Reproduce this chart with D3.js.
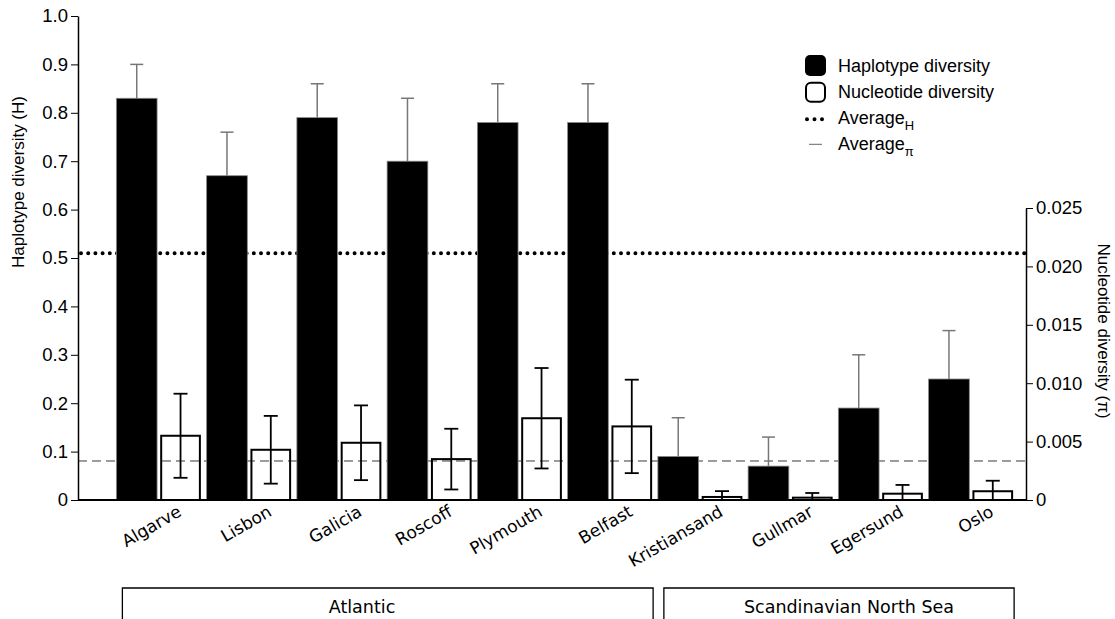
<!DOCTYPE html>
<html>
<head>
<meta charset="utf-8">
<script src="https://cdn.jsdelivr.net/npm/d3@7"></script>
<style>
  html, body { margin: 0; padding: 0; background: #fff; }
  svg { display: block; }
</style>
</head>
<body>
<svg id="chart" width="1115" height="619"></svg>
<script>
// ---------------- data ----------------
const categories = ["Algarve", "Lisbon", "Galicia", "Roscoff", "Plymouth", "Belfast",
                    "Kristiansand", "Gullmar", "Egersund", "Oslo"];
const hapValues = [0.83, 0.67, 0.79, 0.70, 0.78, 0.78, 0.09, 0.07, 0.19, 0.25];
const hapErr    = [0.07, 0.09, 0.07, 0.13, 0.08, 0.08, 0.08, 0.06, 0.11, 0.10];
const nucValues = [0.0055, 0.0043, 0.0049, 0.0035, 0.0070, 0.0063, 0.00026, 0.0002, 0.00054, 0.00075];
const nucErr    = [0.0036, 0.0029, 0.0032, 0.0026, 0.0043, 0.0040, 0.0005, 0.0004, 0.00075, 0.0009];
const averageH  = 0.51;
const averagePi = 0.00334;
const leftTicks  = [0, 0.1, 0.2, 0.3, 0.4, 0.5, 0.6, 0.7, 0.8, 0.9, 1.0];
const leftTickLabels = ["0", "0.1", "0.2", "0.3", "0.4", "0.5", "0.6", "0.7", "0.8", "0.9", "1.0"];
const rightTicks = [0, 0.005, 0.010, 0.015, 0.020, 0.025];
const rightTickLabels = ["0", "0.005", "0.010", "0.015", "0.020", "0.025"];
const groupNames = ["Atlantic", "Scandinavian North Sea"];
const groupFirst = ["Algarve", "Kristiansand"];
const groupLast  = ["Belfast", "Oslo"];
const seriesKeys = ["H", "pi"];
const legendLabels = ["Haplotype diversity", "Nucleotide diversity", "Average", "Average"];
const legendSubs = ["", "", "H", "π"];

// ---------------- setup ----------------
const svg = d3.select("#chart");
const helv = "'Liberation Sans', Arial, Helvetica, sans-serif";
const lucida = "'DejaVu Sans', 'Noto Sans', sans-serif";

const x = d3.scaleBand().domain(categories).range([113.5, 1016])
  .paddingInner(0.0637).paddingOuter(0.0319);
const xs = d3.scaleBand().domain(seriesKeys).range([0, x.bandwidth()]).paddingInner(0.071);
const yH = d3.scaleLinear().domain([0, 1]).range([500, 16]);
const yPi = d3.scaleLinear().domain([0, 0.025]).range([500, 208]);

const xLeft = 78, xRight = 1026;

// ---------------- average lines ----------------
svg.append("line")
  .attr("x1", xLeft).attr("x2", xRight)
  .attr("y1", yPi(averagePi)).attr("y2", yPi(averagePi))
  .attr("stroke", "#3a3a3a").attr("stroke-width", 1)
  .attr("stroke-dasharray", "9,5");

svg.append("line")
  .attr("x1", xLeft + 3).attr("x2", xRight)
  .attr("y1", yH(averageH)).attr("y2", yH(averageH))
  .attr("stroke", "#000").attr("stroke-width", 4)
  .attr("stroke-linecap", "round")
  .attr("stroke-dasharray", "0,7.2");

// ---------------- bars ----------------
const data = categories.map((c, i) => ({
  cat: c, h: hapValues[i], he: hapErr[i], p: nucValues[i], pe: nucErr[i]
}));

const gH = svg.append("g");
gH.selectAll("line.herr").data(data).join("line")
  .attr("x1", d => x(d.cat) + xs("H") + xs.bandwidth() / 2)
  .attr("x2", d => x(d.cat) + xs("H") + xs.bandwidth() / 2)
  .attr("y1", d => yH(d.h)).attr("y2", d => yH(d.h + d.he))
  .attr("stroke", "#777").attr("stroke-width", 1.5);
gH.selectAll("line.hcap").data(data).join("line")
  .attr("x1", d => x(d.cat) + xs("H") + xs.bandwidth() / 2 - 6.5)
  .attr("x2", d => x(d.cat) + xs("H") + xs.bandwidth() / 2 + 6.5)
  .attr("y1", d => yH(d.h + d.he)).attr("y2", d => yH(d.h + d.he))
  .attr("stroke", "#777").attr("stroke-width", 1.5);
gH.selectAll("rect").data(data).join("rect")
  .attr("x", d => x(d.cat) + xs("H"))
  .attr("width", xs.bandwidth())
  .attr("y", d => yH(d.h))
  .attr("height", d => yH(0) - yH(d.h))
  .attr("fill", "#000").attr("stroke", "#888").attr("stroke-width", 0.8);

const gP = svg.append("g");
gP.selectAll("rect").data(data).join("rect")
  .attr("x", d => x(d.cat) + xs("pi") + 1)
  .attr("width", xs.bandwidth() - 2)
  .attr("y", d => yPi(d.p))
  .attr("height", d => yPi(0) - yPi(d.p))
  .attr("fill", "none").attr("stroke", "#000").attr("stroke-width", 2);
const pcx = d => x(d.cat) + xs("pi") + xs.bandwidth() / 2;
gP.selectAll("line.perr").data(data).join("line")
  .attr("x1", pcx).attr("x2", pcx)
  .attr("y1", d => yPi(Math.max(0, d.p - d.pe))).attr("y2", d => yPi(d.p + d.pe))
  .attr("stroke", "#000").attr("stroke-width", 1.8);
gP.selectAll("line.pcapT").data(data).join("line")
  .attr("x1", d => pcx(d) - 7).attr("x2", d => pcx(d) + 7)
  .attr("y1", d => yPi(d.p + d.pe)).attr("y2", d => yPi(d.p + d.pe))
  .attr("stroke", "#000").attr("stroke-width", 1.8);
gP.selectAll("line.pcapB").data(data.filter(d => d.p - d.pe > 0)).join("line")
  .attr("x1", d => pcx(d) - 7).attr("x2", d => pcx(d) + 7)
  .attr("y1", d => yPi(d.p - d.pe)).attr("y2", d => yPi(d.p - d.pe))
  .attr("stroke", "#000").attr("stroke-width", 1.8);

// ---------------- axes ----------------
const leftAxis = svg.append("g").attr("transform", `translate(${xLeft},0)`)
  .call(d3.axisLeft(yH).tickValues(leftTicks)
    .tickFormat((d, i) => leftTickLabels[i]).tickSize(7).tickSizeOuter(0).tickPadding(3));
leftAxis.selectAll("text").attr("font-family", helv).attr("font-size", 18.5).attr("fill", "#000");
leftAxis.selectAll("line").attr("stroke", "#000").attr("stroke-width", 1);
leftAxis.select(".domain").attr("stroke", "#000").attr("stroke-width", 1.5);

const rightAxis = svg.append("g").attr("transform", `translate(${xRight},0)`)
  .call(d3.axisRight(yPi).tickValues(rightTicks)
    .tickFormat((d, i) => rightTickLabels[i]).tickSize(7).tickSizeOuter(0).tickPadding(3));
rightAxis.selectAll("text").attr("font-family", helv).attr("font-size", 18.5).attr("fill", "#000");
rightAxis.selectAll("line").attr("stroke", "#000").attr("stroke-width", 1);
rightAxis.select(".domain").attr("stroke", "#000").attr("stroke-width", 1.5);

// baseline
svg.append("line").attr("x1", xLeft).attr("x2", xRight)
  .attr("y1", yH(0)).attr("y2", yH(0))
  .attr("stroke", "#000").attr("stroke-width", 2.2);

// axis titles
svg.append("text")
  .attr("transform", "translate(24,182) rotate(-90)")
  .attr("text-anchor", "middle")
  .attr("font-family", helv).attr("font-size", 17)
  .text("Haplotype diversity (H)");
svg.append("text")
  .attr("transform", "translate(1098,331) rotate(90)")
  .attr("text-anchor", "middle")
  .attr("font-family", helv).attr("font-size", 17)
  .text("Nucleotide diversity (π)");

// category labels
svg.append("g").selectAll("text").data(categories).join("text")
  .attr("transform", d => `translate(${x(d) + x.bandwidth() / 2 + 24},515) rotate(-30)`)
  .attr("text-anchor", "end")
  .attr("font-family", lucida).attr("font-size", 17)
  .text(d => d);

// group boxes
groupNames.forEach((g, i) => {
  const x0 = x(groupFirst[i]) + 6;
  const x1 = x(groupLast[i]) + x.bandwidth() + 1;
  svg.append("path")
    .attr("d", `M${x0},630 V588 H${x1} V630`)
    .attr("fill", "none").attr("stroke", "#000").attr("stroke-width", 1.3);
});
svg.append("text").attr("x", 362).attr("y", 613)
  .attr("text-anchor", "middle").attr("font-family", lucida).attr("font-size", 17.5)
  .text(groupNames[0]);
svg.append("text").attr("x", 849).attr("y", 613)
  .attr("text-anchor", "middle").attr("font-family", lucida).attr("font-size", 17.5)
  .text(groupNames[1]);

// ---------------- legend ----------------
const lg = svg.append("g").attr("transform", "translate(805,55)");
const rowH = 26.7;
lg.append("rect").attr("x", 0).attr("y", 0).attr("width", 21).attr("height", 21)
  .attr("rx", 5).attr("fill", "#000");
lg.append("rect").attr("x", 1).attr("y", rowH + 1).attr("width", 19).attr("height", 19)
  .attr("rx", 5).attr("fill", "#fff").attr("stroke", "#000").attr("stroke-width", 2);
lg.append("line").attr("x1", 2).attr("x2", 19)
  .attr("y1", 64.3).attr("y2", 64.3)
  .attr("stroke", "#000").attr("stroke-width", 4).attr("stroke-linecap", "round")
  .attr("stroke-dasharray", "0,7.5");
lg.append("line").attr("x1", 4).attr("x2", 17)
  .attr("y1", 89.3).attr("y2", 89.3)
  .attr("stroke", "#666").attr("stroke-width", 1);
legendLabels.forEach((t, i) => {
  const tx = lg.append("text").attr("x", 33).attr("y", 17 + i * 25.7 + (i > 1 ? 1 : 0))
    .attr("font-family", helv).attr("font-size", 18).text(t);
  if (legendSubs[i]) {
    tx.append("tspan").attr("dy", 6).attr("font-size", 13).text(legendSubs[i]);
  }
});
</script>
</body>
</html>
